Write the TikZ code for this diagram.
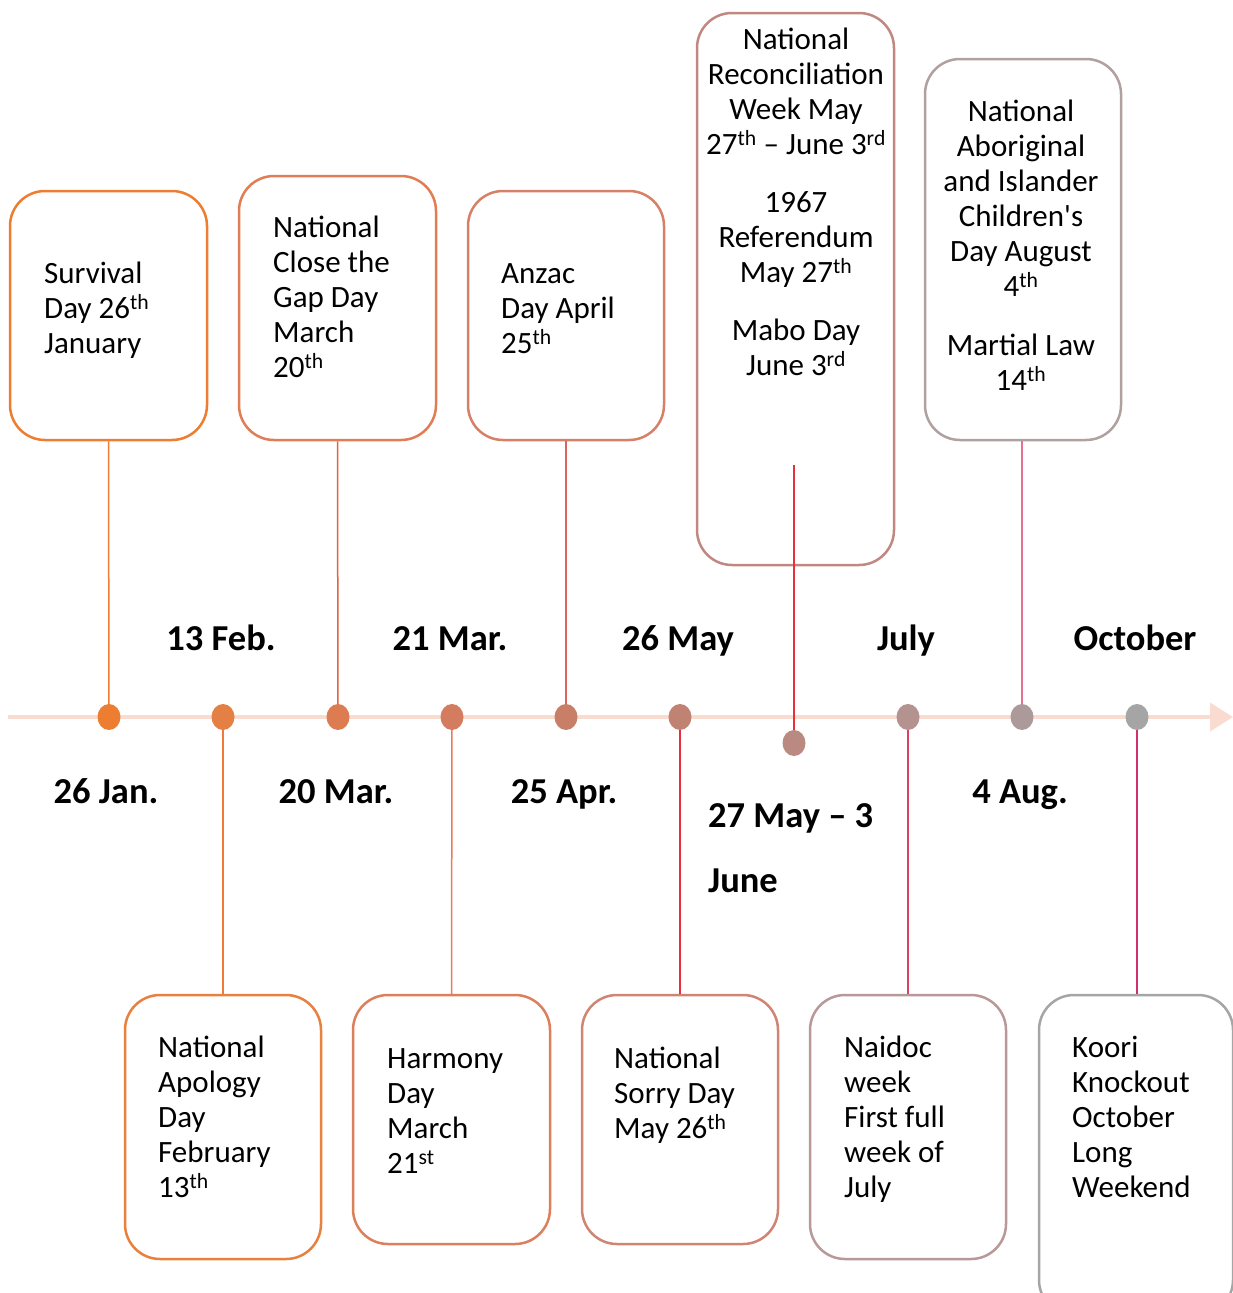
\documentclass[tikz,border=0pt]{standalone}
\usepackage{fontspec}
\setmainfont{Carlito}[Ligatures=TeXOff]
\usetikzlibrary{shapes.geometric,arrows.meta}
\definecolor{d1}{HTML}{ED7D31}
\definecolor{d2}{HTML}{E58045}
\definecolor{d3}{HTML}{DC7C50}
\definecolor{d4}{HTML}{D47C60}
\definecolor{d5}{HTML}{C97E68}
\definecolor{d6}{HTML}{C08272}
\definecolor{d7}{HTML}{BA8A80}
\definecolor{d8}{HTML}{B49290}
\definecolor{d9}{HTML}{AC9A9A}
\definecolor{d10}{HTML}{A5A5A5}
\definecolor{bx1}{HTML}{ED7D31}
\definecolor{bx2}{HTML}{E07D55}
\definecolor{bx3}{HTML}{D68068}
\definecolor{bx4}{HTML}{C08880}
\definecolor{bx5}{HTML}{B0A0A0}
\definecolor{bx6}{HTML}{E8803E}
\definecolor{bx7}{HTML}{DC805C}
\definecolor{bx8}{HTML}{D08473}
\definecolor{bx9}{HTML}{B89898}
\definecolor{bx10}{HTML}{A5A5A5}
\definecolor{ln1}{HTML}{ED7D31}
\definecolor{ln2}{HTML}{EE7B3A}
\definecolor{ln3}{HTML}{E8603C}
\definecolor{ln4}{HTML}{EC7A5A}
\definecolor{ln5}{HTML}{E06060}
\definecolor{ln6}{HTML}{E8303C}
\definecolor{ln7}{HTML}{E8303C}
\definecolor{ln8}{HTML}{E04060}
\definecolor{ln9}{HTML}{E87090}
\definecolor{ln10}{HTML}{D03070}
\definecolor{tline}{HTML}{FADBD0}
\newcommand{\sth}{\textsuperscript{th}}
\newcommand{\srd}{\textsuperscript{rd}}
\newcommand{\sst}{\textsuperscript{st}}
\tikzset{
  evbox/.style={draw=#1, line width=2.5pt, rounded corners=35pt, rectangle, inner sep=0pt},
  evdot/.style={ellipse, fill=#1, draw=none, minimum width=23pt, minimum height=26pt, inner sep=0pt},
  conn/.style={draw=#1, line width=1.5pt},
  evtext/.style={inner sep=0pt, align=left, font=\fontsize{31}{35}\selectfont},
  evtextc/.style={inner sep=0pt, align=center, font=\fontsize{31}{35}\selectfont},
  datelbl/.style={inner sep=0pt, font=\fontsize{36.5}{40}\selectfont\bfseries},
  timeline/.style={draw=tline, line width=4pt, -{Triangle[length=23pt,width=28pt,fill=tline]}}
}
\begin{document}
\begin{tikzpicture}[x=1pt,y=-1pt]
\useasboundingbox (0,0) rectangle (1233,1293);
\clip (0,0) rectangle (1233,1293);
% timeline
\coordinate (tl0) at (8,717);
\coordinate (tl1) at (1233,717);
\draw[timeline] (tl0) -- (tl1);
% boxes
\node[evbox=bx1, minimum width=197pt, minimum height=249pt] (b1) at (108.5,315.5) {};
\node[evbox=bx2, minimum width=197pt, minimum height=264pt] (b2) at (337.5,308) {};
\node[evbox=bx3, minimum width=196pt, minimum height=249pt] (b3) at (566,315.5) {};
\node[evbox=bx4, minimum width=197pt, minimum height=552pt] (b4) at (795.5,289) {};
\node[evbox=bx5, minimum width=196pt, minimum height=381pt] (b5) at (1023,249.5) {};
\node[evbox=bx6, minimum width=196pt, minimum height=264pt] (b6) at (223,1127) {};
\node[evbox=bx7, minimum width=197pt, minimum height=249pt] (b7) at (451.5,1119.5) {};
\node[evbox=bx8, minimum width=196pt, minimum height=249pt] (b8) at (680,1119.5) {};
\node[evbox=bx9, minimum width=196pt, minimum height=264pt] (b9) at (908,1127) {};
\node[evbox=bx10, minimum width=194pt, minimum height=320pt] (b10) at (1136,1155) {};
% box texts
\node[evtext, anchor=north west] (t1) at (44,258.5) {\strut Survival\\Day 26\sth\\January};
\node[evtext, anchor=north west] (t2) at (273,212.5) {\strut National\\Close the\\Gap Day\\March\\20\sth};
\node[evtext, anchor=north west] (t3) at (501,258.5) {\strut Anzac\\Day April\\25\sth};
\node[evtextc, anchor=north] (t4) at (796,24.5) {\strut National\\Reconciliation\\Week May\\27\sth{} – June 3\srd\\[23pt]1967\\Referendum\\May 27\sth\\[23pt]Mabo Day\\June 3\srd};
\node[evtextc, anchor=north] (t5) at (1021,96.5) {\strut National\\Aboriginal\\and Islander\\Children's\\Day August\\4\sth\\[24pt]Martial Law\\14\sth};
\node[evtext, anchor=north west] (t6) at (158,1032.5) {\strut National\\Apology\\Day\\February\\13\sth};
\node[evtext, anchor=north west] (t7) at (387,1043.5) {\strut Harmony\\Day\\March\\21\sst};
\node[evtext, anchor=north west] (t8) at (614,1043.5) {\strut National\\Sorry Day\\May 26\sth};
\node[evtext, anchor=north west] (t9) at (844,1032.5) {\strut Naidoc\\week\\First full\\week of\\July};
\node[evtext, anchor=north west] (t10) at (1072,1032.5) {\strut Koori\\Knockout\\October\\Long\\Weekend};
% dots
\node[evdot=d1] (d1) at (109,717) {};
\node[evdot=d2] (d2) at (223,717) {};
\node[evdot=d3] (d3) at (338,717) {};
\node[evdot=d4] (d4) at (452,717) {};
\node[evdot=d5] (d5) at (566,717) {};
\node[evdot=d6] (d6) at (680,717) {};
\node[evdot=d7] (d7) at (794,743) {};
\node[evdot=d8] (d8) at (908,717) {};
\node[evdot=d9] (d9) at (1022,717) {};
\node[evdot=d10] (d10) at (1137,717) {};
% connectors
\coordinate (r4) at (794,465);
\draw[conn=ln1] (b1.south) -- (d1);
\draw[conn=ln2] (d2) -- (b6.north);
\draw[conn=ln3] (b2.south) -- (d3);
\draw[conn=ln4] (d4) -- (b7.north);
\draw[conn=ln5] (b3.south) -- (d5);
\draw[conn=ln6] (d6) -- (b8.north);
\draw[conn=ln7] (r4) -- (d7);
\draw[conn=ln8] (d8) -- (b9.north);
\draw[conn=ln9] (b5.south -| d9) -- (d9);
\draw[conn=ln10] (d10) -- (b10.north -| d10);
% date labels
\node[datelbl, anchor=base] (l2) at (221,650) {13 Feb.};
\node[datelbl, anchor=base] (l4) at (450,650) {21 Mar.};
\node[datelbl, anchor=base] (l6) at (678,650) {26 May};
\node[datelbl, anchor=base] (l8) at (906,650) {July};
\node[datelbl, anchor=base] (l10) at (1135,650) {October};
\node[datelbl, anchor=base] (l1) at (106,803) {26 Jan.};
\node[datelbl, anchor=base] (l3) at (336,803) {20 Mar.};
\node[datelbl, anchor=base] (l5) at (564,803) {25 Apr.};
\node[datelbl, anchor=base] (l9) at (1020,803) {4 Aug.};
\node[datelbl, anchor=base west] (l7a) at (708,827) {27 May – 3};
\node[datelbl, anchor=base west] (l7b) at (708,892) {June};
\end{tikzpicture}
\end{document}
